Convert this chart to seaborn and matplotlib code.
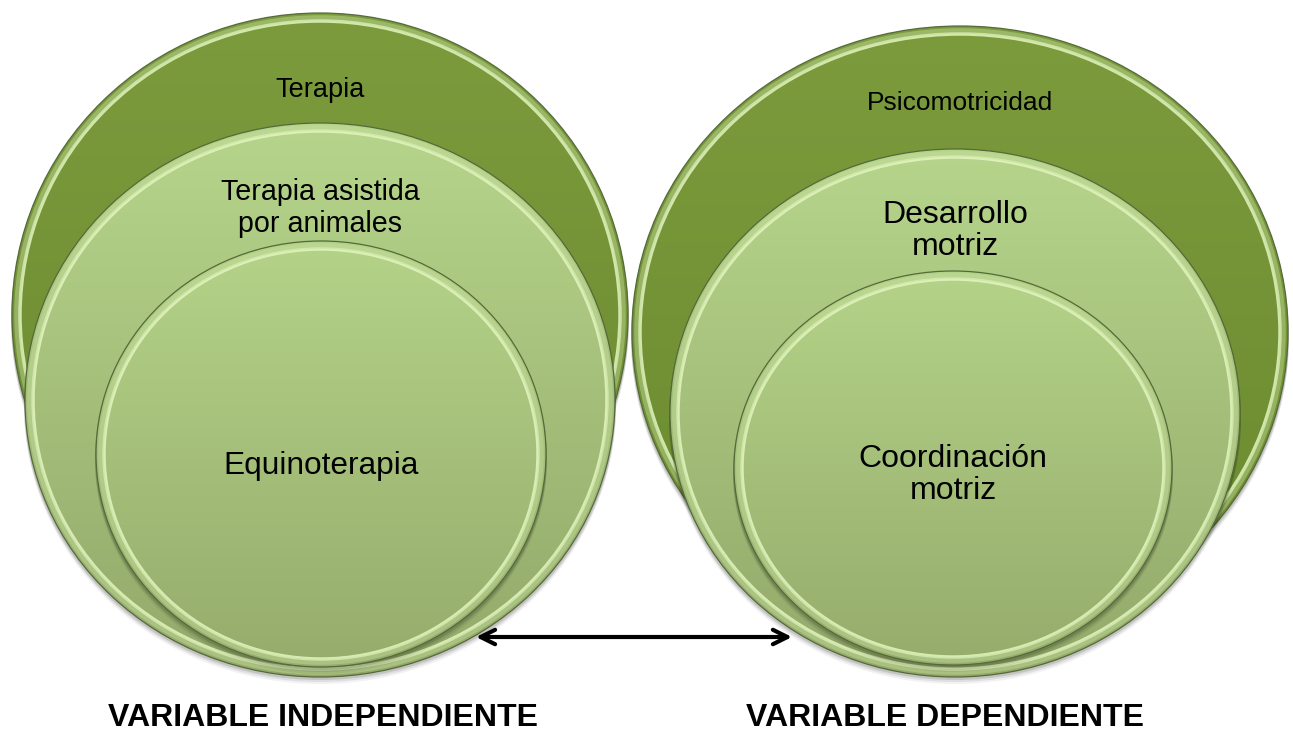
import numpy as np
import matplotlib
matplotlib.use('Agg')
import matplotlib.pyplot as plt
from matplotlib.patches import Ellipse
import seaborn as sns

# labels of the nested circles (left group = independent, right group = dependent)
outer_labels = ['Terapia', 'Psicomotricidad']
middle_labels = ['Terapia asistida\npor animales', 'Desarrollo\nmotriz']
inner_labels = ['Equinoterapia', 'Coordinación\nmotriz']
variable_labels = ['VARIABLE INDEPENDIENTE', 'VARIABLE DEPENDIENTE']

# layout (pixels): centre x, centre y, half width, half height
outer_geom = [(320, 315, 308, 302), (960, 332, 328, 306)]
middle_geom = [(320, 400, 295, 277), (955, 413, 285, 264)]
inner_geom = [(321, 454, 225, 213), (953, 468, 219, 197)]

outer_text_y = [90, 103]
middle_text_y = [208, 231]
inner_text_y = [466, 475]
outer_size = [19.5, 19]
middle_size = [20.6, 23]
middle_spacing = [1.2, 1.08]
inner_size = [22.8, 23]
variable_x = [323, 945]

sns.set_theme(style='white')
plt.rcParams['font.family'] = ['Liberation Sans', 'DejaVu Sans']

fig = plt.figure(figsize=(12.93, 7.33), dpi=100)
ax = fig.add_axes([0, 0, 1, 1])


def gradient(top, bottom, n=256):
    top = np.array(matplotlib.colors.to_rgb(top))
    bottom = np.array(matplotlib.colors.to_rgb(bottom))
    t = np.linspace(0, 1, n)[:, None, None]
    return np.repeat(top * (1 - t) + bottom * t, 2, axis=1)


def disc(cx, cy, rx, ry, top, bottom, z):
    # soft shadow under the disc
    for k, a in [(7, 0.05), (5, 0.08), (3, 0.12)]:
        ax.add_patch(Ellipse((cx, cy + k), 2 * rx + 2, 2 * ry, color='black',
                             alpha=a, lw=0, zorder=z))
    base = Ellipse((cx, cy), 2 * rx, 2 * ry, facecolor='none', edgecolor='none', zorder=z + 0.1)
    ax.add_patch(base)
    im = ax.imshow(gradient(top, bottom), extent=(cx - rx, cx + rx, cy + ry, cy - ry),
                   origin='upper', aspect='auto', zorder=z + 0.2, interpolation='bilinear')
    im.set_clip_path(base)
    # bevel: light rim just inside the edge
    ax.add_patch(Ellipse((cx, cy), 2 * rx - 16, 2 * ry - 16, facecolor='none',
                         edgecolor='#e3f6c0', lw=2.5, alpha=0.85, zorder=z + 0.3))
    ax.add_patch(Ellipse((cx, cy), 2 * rx - 10, 2 * ry - 10, facecolor='none',
                         edgecolor='#c4dd9c', lw=4, alpha=0.45, zorder=z + 0.3))
    ax.add_patch(Ellipse((cx, cy), 2 * rx, 2 * ry, facecolor='none',
                         edgecolor='#55693a', lw=0.9, zorder=z + 0.4))


for i in range(2):
    z = 1 + i * 10
    disc(*outer_geom[i], '#7b9b3d', '#6a8a2e', z)
    disc(*middle_geom[i], '#b6d58b', '#93a96a', z + 2)
    disc(*inner_geom[i], '#b4d388', '#96ac6c', z + 4)

    ax.text(outer_geom[i][0], outer_text_y[i], outer_labels[i], ha='center', va='center',
            fontsize=outer_size[i], color='black', zorder=30)
    ax.text(middle_geom[i][0], middle_text_y[i], middle_labels[i], ha='center', va='center',
            fontsize=middle_size[i], color='black', linespacing=middle_spacing[i], zorder=30)
    ax.text(inner_geom[i][0], inner_text_y[i], inner_labels[i], ha='center', va='center',
            fontsize=inner_size[i], color='black', linespacing=1.08, zorder=30)
    ax.text(variable_x[i], 718, variable_labels[i], ha='center', va='center',
            fontsize=23, fontweight='bold', color='black', zorder=30)

# double arrow between the two groups
ax.annotate('', xy=(476, 637), xytext=(792, 637),
            arrowprops=dict(arrowstyle='<->', lw=3, color='black', mutation_scale=26,
                            shrinkA=0, shrinkB=0), zorder=40)

ax.set_xlim(0, 1293)
ax.set_ylim(733, 0)
ax.axis('off')

fig.savefig('out.png', dpi=100, facecolor='white')
